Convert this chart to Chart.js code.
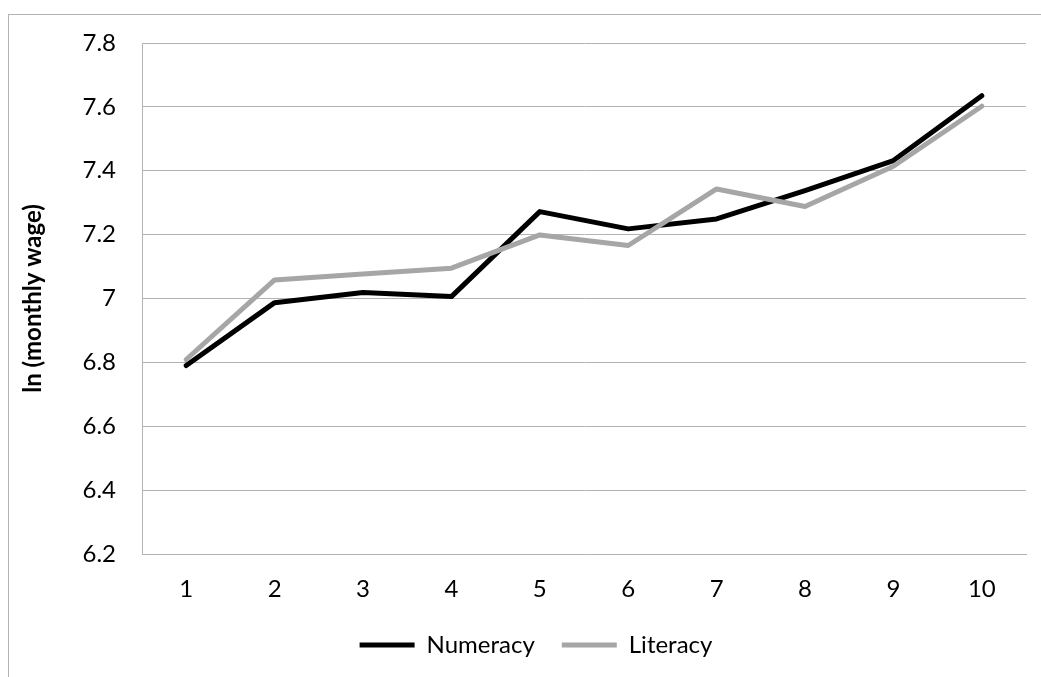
<!DOCTYPE html>
<html lang="en">
<head>
    <meta charset="UTF-8">
    <title>Chart</title>
    <script src="https://cdn.jsdelivr.net/npm/chart.js"></script>
    <style>
        html, body { margin: 0; padding: 0; background: #fff; overflow: hidden; }
        #frame {
            position: absolute; left: 8px; top: 14px;
            width: 1054px; height: 700px;
            border: 1px solid #b3b3b3;
        }
        #frame canvas { display: block; }
    </style>
</head>
<body>
    <div id="frame">
        <canvas id="wageChart" width="1054" height="652"></canvas>
    </div>

    <script>
        // values
        const categories = ["1", "2", "3", "4", "5", "6", "7", "8", "9", "10"];
        const numeracy = [6.79, 6.987, 7.019, 7.006, 7.272, 7.218, 7.249, 7.338, 7.432, 7.635];
        const literacy = [6.809, 7.058, 7.077, 7.095, 7.199, 7.166, 7.343, 7.288, 7.414, 7.602];
        const yTicks = [6.2, 6.4, 6.6, 6.8, 7, 7.2, 7.4, 7.6, 7.8];

        const gridGray = "#b3b3b3";
        const font = { family: "Lato", size: 24 };

        const ctx = document.getElementById("wageChart").getContext("2d");
        new Chart(ctx, {
            type: "line",
            data: {
                labels: categories,
                datasets: [{
                    label: "Numeracy",
                    data: numeracy,
                    borderColor: "#000000",
                    backgroundColor: "#000000",
                    borderWidth: 5,
                    borderCapStyle: "round",
                    borderJoinStyle: "round",
                    pointRadius: 0,
                    tension: 0,
                    order: 1
                }, {
                    label: "Literacy",
                    data: literacy,
                    borderColor: "#a6a6a6",
                    backgroundColor: "#a6a6a6",
                    borderWidth: 5,
                    borderCapStyle: "round",
                    borderJoinStyle: "round",
                    pointRadius: 0,
                    tension: 0,
                    order: 0
                }]
            },
            options: {
                responsive: false,
                animation: false,
                layout: { padding: { top: 28, right: 0, left: 0, bottom: 0 } },
                plugins: {
                    tooltip: { enabled: false },
                    legend: {
                        position: "bottom",
                        labels: {
                            font: font,
                            color: "#000",
                            usePointStyle: true,
                            pointStyle: "line",
                            pointStyleWidth: 55,
                            padding: 27,
                            sort: (a, b) => a.datasetIndex - b.datasetIndex
                        }
                    }
                },
                scales: {
                    x: {
                        offset: true,
                        grid: { display: false, drawTicks: false },
                        border: { color: gridGray, width: 1 },
                        ticks: { font: font, color: "#000", padding: 21, maxRotation: 0 },
                        afterFit: (s) => { s.height = 52; }
                    },
                    y: {
                        min: 6.2,
                        max: 7.8,
                        afterBuildTicks: (s) => { s.ticks = yTicks.map(v => ({ value: v })); },
                        grid: { color: gridGray, lineWidth: 1, drawTicks: false },
                        border: { color: gridGray, width: 1 },
                        ticks: {
                            font: font,
                            color: "#000",
                            padding: 26,
                            callback: (v) => String(Number(v.toFixed(1)))
                        },
                        title: {
                            display: true,
                            text: "ln (monthly wage)",
                            color: "#000",
                            font: { family: "Lato", size: 24, weight: "bold" },
                            padding: { top: 10, bottom: 0 }
                        },
                        afterFit: (s) => {
                            s.width = 133;
                            s.paddingTop = 14;
                            s.paddingBottom = 14;
                        }
                    },
                    // empty right-hand box so the legend centres like the original
                    spacer: {
                        type: "linear",
                        position: "right",
                        grid: { display: false },
                        border: { display: false },
                        ticks: { display: false },
                        afterFit: (s) => { s.width = 37; }
                    }
                }
            }
        });
    </script>
</body>
</html>
